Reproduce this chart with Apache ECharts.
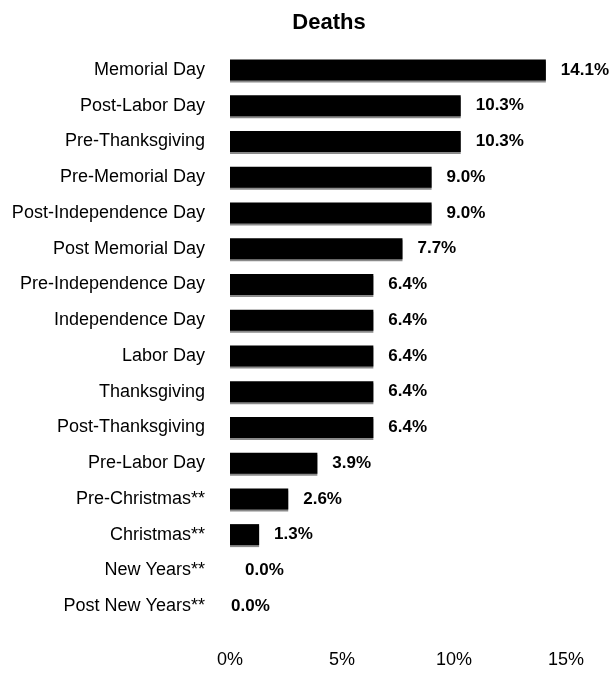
<!DOCTYPE html>
<html>
<head>
<meta charset="utf-8">
<script src="https://cdn.jsdelivr.net/npm/echarts@6/dist/echarts.min.js"></script>
<style>
html,body{margin:0;padding:0;background:#fff;}
#chart{width:611px;height:696px;}
</style>
</head>
<body>
<div id="chart"></div>
<script>
var categories = ["Memorial Day","Post-Labor Day","Pre-Thanksgiving","Pre-Memorial Day","Post-Independence Day","Post Memorial Day","Pre-Independence Day","Independence Day","Labor Day","Thanksgiving","Post-Thanksgiving","Pre-Labor Day","Pre-Christmas**","Christmas**","New Years**","Post New Years**"];
var deaths = [14.1,10.3,10.3,9.0,9.0,7.7,6.4,6.4,6.4,6.4,6.4,3.9,2.6,1.3,0.0,0.0];
var xTicks = [0,5,10,15];

var chart = echarts.init(document.getElementById('chart'));
var font = 'Liberation Sans, Arial, sans-serif';
var seriesData = deaths.map(function(v,i){
  var d = {value:v};
  if (i === deaths.length-1) d.label = {distance:1};
  return d;
});
chart.setOption({
  animation:false,
  title:{text:'Deaths',left:324,top:7,textAlign:'center',
    textStyle:{fontFamily:font,fontWeight:'bold',fontSize:22,color:'#000'}},
  grid:{left:230,right:45,top:52,bottom:72,containLabel:false},
  xAxis:{type:'value',min:xTicks[0],max:xTicks[xTicks.length-1],interval:5,
    axisLine:{show:false},axisTick:{show:false},splitLine:{show:false},
    axisLabel:{formatter:'{value}%',margin:27,fontFamily:font,fontSize:18,color:'#000'}},
  yAxis:{type:'category',data:categories,inverse:true,
    axisLine:{show:false},axisTick:{show:false},
    axisLabel:{margin:25,fontFamily:font,fontSize:18,color:'#000'}},
  series:[{
    type:'bar',data:seriesData,barWidth:21,
    itemStyle:{color:'#000',borderColor:'#000',borderWidth:0,
      shadowColor:'#8a8a8a',shadowOffsetY:2,shadowOffsetX:0,shadowBlur:0},
    label:{show:true,position:'right',distance:15,
      formatter:function(p){return p.value.toFixed(1)+'%';},
      fontFamily:font,fontWeight:'bold',fontSize:17,color:'#000'}
  }]
});
</script>
</body>
</html>
